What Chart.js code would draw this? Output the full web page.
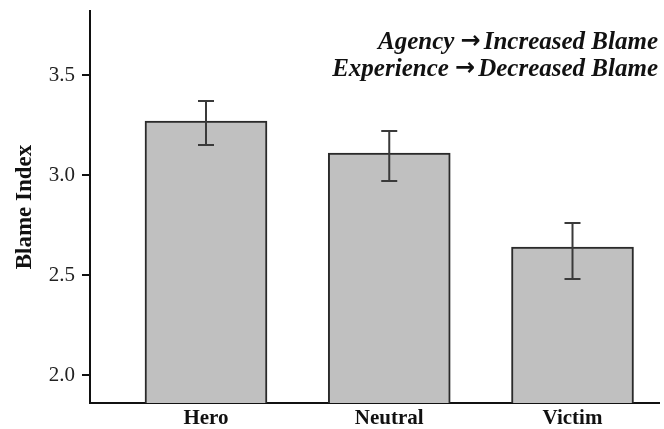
<!DOCTYPE html>
<html><head><meta charset="utf-8">
<script src="https://cdn.jsdelivr.net/npm/chart.js@4"></script>
<style>html,body{margin:0;padding:0;background:#fff}#wrap{width:664px;height:429px;position:relative}</style>
</head><body><div id="wrap"><canvas id="c"></canvas></div>
<script>
const categories = ['Hero', 'Neutral', 'Victim'];
const positions = [1, 2, 3];
const meanBlame = [3.27, 3.11, 2.64];
const errLow = [3.15, 2.97, 2.48];
const errHigh = [3.37, 3.22, 2.76];
const yTicks = [2.0, 2.5, 3.0, 3.5];
const notes = [['Agency ', 'Increased Blame'], ['Experience ', 'Decreased Blame']];

const serif = '"Liberation Serif", "Times New Roman", serif';

const errorBars = {
  id: 'errorBars',
  afterDatasetsDraw(chart) {
    const ctx = chart.ctx;
    const meta = chart.getDatasetMeta(0);
    const ys = chart.scales.y;
    ctx.save();
    ctx.strokeStyle = '#3a3a3a';
    ctx.lineWidth = 2;
    meta.data.forEach((bar, i) => {
      const x = bar.x;
      const yh = ys.getPixelForValue(errHigh[i]);
      const yl = ys.getPixelForValue(errLow[i]);
      ctx.beginPath();
      ctx.moveTo(x, yh); ctx.lineTo(x, yl);
      ctx.moveTo(x - 8, yh); ctx.lineTo(x + 8, yh);
      ctx.moveTo(x - 8, yl); ctx.lineTo(x + 8, yl);
      ctx.stroke();
    });
    ctx.restore();
  }
};

const noteText = {
  id: 'noteText',
  afterDraw(chart) {
    const ctx = chart.ctx;
    const a = chart.chartArea;
    const textFont = 'italic bold 25px ' + serif;
    const arrowFont = 'bold 24px "DejaVu Sans"';
    ctx.save();
    ctx.fillStyle = '#111';
    ctx.textAlign = 'left';
    ctx.textBaseline = 'alphabetic';
    notes.forEach((parts, i) => {
      const y = a.top + 38 + i * 27;
      ctx.font = textFont;
      const wRight = ctx.measureText(parts[1]).width;
      const wLeft = ctx.measureText(parts[0]).width;
      ctx.font = arrowFont;
      const wArrow = ctx.measureText('\u2192').width + 3;
      let x = a.right - 1 - wRight - wArrow - wLeft;
      ctx.font = textFont;
      ctx.fillText(parts[0], x, y);
      x += wLeft;
      ctx.font = arrowFont;
      ctx.fillText('\u2192', x, y - 1);
      x += wArrow;
      ctx.font = textFont;
      ctx.fillText(parts[1], x, y);
    });
    ctx.restore();
  }
};

new Chart(document.getElementById('c'), {
  type: 'bar',
  data: {
    datasets: [{
      data: positions.map((p, i) => ({ x: p, y: meanBlame[i] })),
      backgroundColor: '#c0c0c0',
      borderColor: '#2a2a2a',
      borderWidth: 2,
      borderSkipped: false,
      barThickness: 122
    }]
  },
  options: {
    responsive: true,
    maintainAspectRatio: false,
    animation: false,
    layout: { padding: { top: 11, right: 5, left: 0, bottom: 0 } },
    plugins: { legend: { display: false }, tooltip: { enabled: false } },
    scales: {
      x: {
        type: 'linear',
        offset: false,
        min: 0.367,
        max: 3.472,
        afterBuildTicks(scale) { scale.ticks = positions.map(v => ({ value: v })); },
        afterFit(scale) { scale.height = 26; scale.paddingLeft = 0; scale.paddingRight = 0; },
        ticks: {
          callback: (v) => categories[positions.indexOf(v)] || '',
          font: { family: serif, size: 21, weight: 'bold' },
          color: '#111',
          padding: 3,
          maxRotation: 0,
          autoSkip: false
        },
        grid: { display: false, drawTicks: false, offset: false },
        border: { display: true, color: '#111', width: 2 }
      },
      y: {
        min: 1.86,
        max: 3.82,
        afterBuildTicks(scale) { scale.ticks = yTicks.map(v => ({ value: v })); },
        afterFit(scale) { scale.width = 90; scale.paddingTop = 0; scale.paddingBottom = 0; },
        ticks: {
          callback: (v) => Number(v).toFixed(1),
          font: { family: serif, size: 21 },
          color: '#222',
          padding: 7
        },
        grid: { drawOnChartArea: false, drawTicks: true, tickLength: 8, color: '#111', lineWidth: 2 },
        border: { display: true, color: '#111', width: 2 },
        title: {
          display: true,
          text: 'Blame Index',
          font: { family: serif, size: 23, weight: 'bold' },
          color: '#111',
          padding: { top: 11, bottom: 0 }
        }
      }
    }
  },
  plugins: [errorBars, noteText]
});
</script>
</body></html>
